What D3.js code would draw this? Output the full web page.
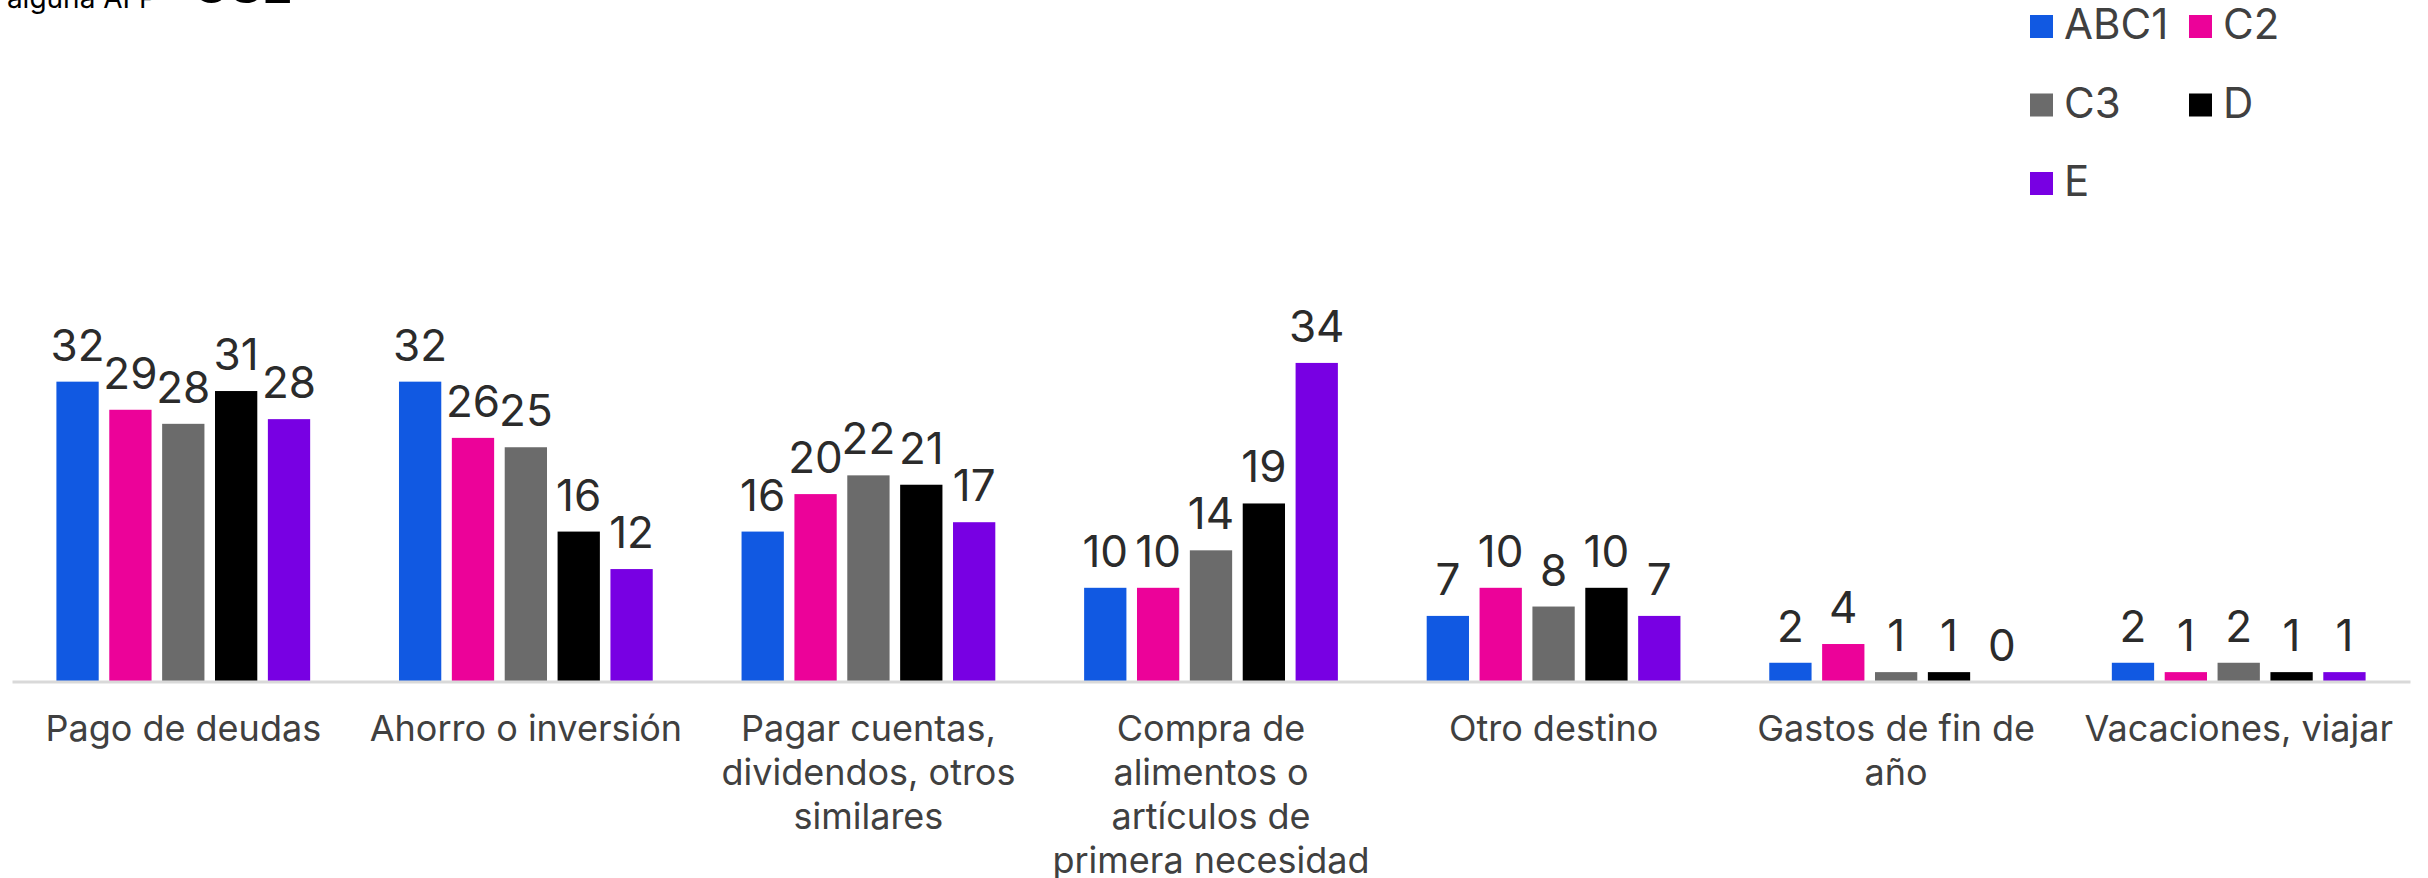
<!DOCTYPE html>
<html>
<head>
<meta charset="utf-8">
<script src="https://cdn.jsdelivr.net/npm/d3@7"></script>
<style>
    body { margin: 0; background: #fff; }
    svg { display: block; font-family: Inter, Roboto, sans-serif; }
</style>
</head>
<body>
<div id="chart"></div>
<script>
// categories (line breaks as in the original labels)
var categories = [
    'Pago de deudas',
    'Ahorro o inversión',
    'Pagar cuentas,\ndividendos, otros\nsimilares',
    'Compra de\nalimentos o\nartículos de\nprimera necesidad',
    'Otro destino',
    'Gastos de fin de\naño',
    'Vacaciones, viajar'
];
var series = ['ABC1', 'C2', 'C3', 'D', 'E'];
var colors = ['#1159e2', '#ec0299', '#6b6b6b', '#000000', '#7800e3'];

// one array per series, in category order
var abc1 = [32, 32, 16, 10, 7, 2, 2];
var c2   = [29, 26, 20, 10, 10, 4, 1];
var c3   = [27.5, 25, 22, 14, 8, 1, 2];
var d    = [31, 16, 21, 19, 10, 1, 1];
var e    = [28, 12, 17, 34, 7, 0, 1];
var values = [abc1, c2, c3, d, e];

var W = 2428, H = 878;
var fmt = d3.format('.0f');

var svg = d3.select('#chart').append('svg')
    .attr('width', W)
    .attr('height', H);

// cut-off heading at the top edge
svg.append('text')
    .attr('x', 157).attr('y', 8)
    .attr('text-anchor', 'end')
    .style('font-size', '28px')
    .style('fill', '#000')
    .text('alguna AFP');
svg.append('text')
    .attr('x', 192).attr('y', 3)
    .style('font-size', '50px')
    .style('font-weight', 'bold')
    .style('fill', '#000')
    .text('GSE');

var x0 = d3.scaleBand()
    .domain(categories)
    .range([12, 2410])
    .paddingInner(0)
    .paddingOuter(0);

var x1 = d3.scaleBand()
    .domain(series)
    .range([0, x0.bandwidth()])
    .paddingInner(0.2)
    .paddingOuter(0.84);

var y = d3.scaleLinear()
    .domain([0, 35])
    .range([681.5, 681.5 - 35 * 9.37]);

var groups = svg.append('g').attr('class', 'groups')
    .selectAll('g.group')
    .data(categories)
    .enter()
    .append('g')
    .attr('class', 'group')
    .attr('transform', function (c) { return 'translate(' + x0(c) + ',0)'; });

groups.each(function (c, ci) {
    var g = d3.select(this);
    var rows = series.map(function (s, si) {
        return { s: s, v: values[si][ci], color: colors[si] };
    });
    g.selectAll('rect')
        .data(rows)
        .enter()
        .append('rect')
        .attr('x', function (r) { return x1(r.s); })
        .attr('y', function (r) { return y(r.v); })
        .attr('width', x1.bandwidth())
        .attr('height', function (r) { return y(0) - y(r.v); })
        .style('fill', function (r) { return r.color; });
    g.selectAll('text.val')
        .data(rows)
        .enter()
        .append('text')
        .attr('class', 'val')
        .attr('x', function (r) { return x1(r.s) + x1.bandwidth() / 2; })
        .attr('y', function (r) { return y(r.v) - 21; })
        .attr('text-anchor', 'middle')
        .style('font-size', '44px')
        .style('fill', '#2b2b2b')
        .text(function (r) { return fmt(r.v); });
});

// category axis
var axis = svg.append('g')
    .attr('class', 'x-axis')
    .attr('transform', 'translate(0,' + y(0) + ')')
    .call(d3.axisBottom(x0).tickSize(0).tickSizeOuter(0));

axis.select('.domain')
    .style('stroke', '#d9d9d9')
    .style('stroke-width', 3);

axis.selectAll('.tick text')
    .attr('y', 0).attr('dy', null)
    .style('font-family', 'Inter, Roboto, sans-serif')
    .style('font-size', '36px')
    .style('fill', '#404040')
    .each(function (c) {
        var t = d3.select(this);
        t.text(null);
        c.split('\n').forEach(function (line, i) {
            t.append('tspan')
                .attr('x', 0)
                .attr('y', 59.5 + i * 44)
                .text(line);
        });
    });

// legend, two columns
var legend = svg.append('g').attr('class', 'legend');
series.forEach(function (s, i) {
    var col = i % 2, row = Math.floor(i / 2);
    var lx = 2030 + col * 159, ly = 15 + row * 78.5;
    legend.append('rect')
        .attr('x', lx).attr('y', ly)
        .attr('width', 23).attr('height', 23)
        .style('fill', colors[i]);
    legend.append('text')
        .attr('x', lx + 34).attr('y', ly + 24)
        .style('font-size', '42px')
        .style('fill', '#404040')
        .text(s);
});
</script>
</body>
</html>
